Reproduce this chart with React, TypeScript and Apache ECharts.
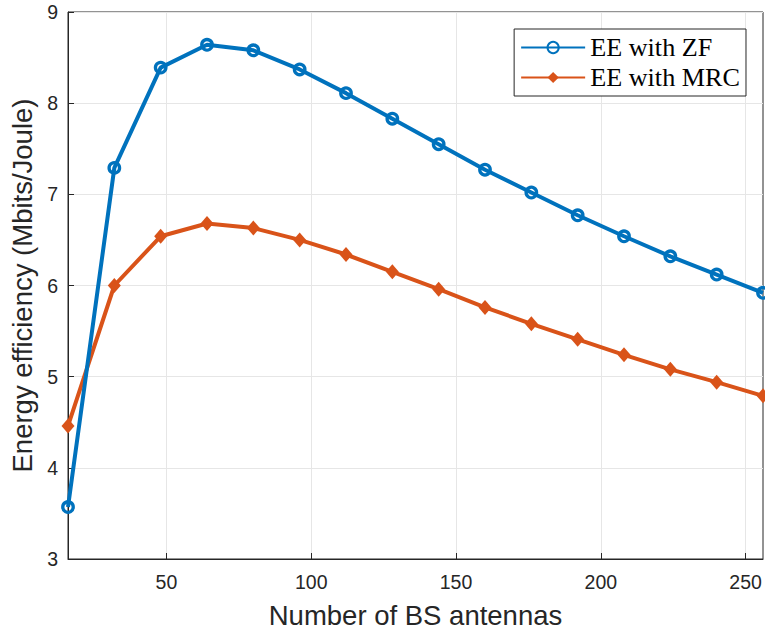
import React, { useEffect, useRef } from "react";
import * as echarts from "echarts";

const antennas = [16, 32, 48, 64, 80, 96, 112, 128, 144, 160, 176, 192, 208, 224, 240, 256];
const eeZF = [3.57, 7.29, 8.39, 8.64, 8.58, 8.37, 8.11, 7.83, 7.55, 7.27, 7.02, 6.77, 6.54, 6.32, 6.12, 5.92];
const eeMRC = [4.46, 6.0, 6.54, 6.68, 6.63, 6.5, 6.34, 6.15, 5.96, 5.76, 5.58, 5.41, 5.24, 5.08, 4.94, 4.79];
const xTicks = [50, 100, 150, 200, 250];

export default function App() {
  const ref = useRef<HTMLDivElement>(null);
  useEffect(() => {
    const chart = echarts.init(ref.current!, undefined, { renderer: "svg" });
    const axisText = { color: "#262626", fontFamily: "Liberation Sans, Arial, sans-serif", fontSize: 19.5 };
    chart.setOption({
      animation: false,
      backgroundColor: "#ffffff",
      grid: { left: 68, right: 2, top: 12, bottom: 74, show: true, borderColor: "#262626", borderWidth: 1 },
      legend: {
        right: 19,
        top: 29,
        orient: "vertical",
        backgroundColor: "#ffffff",
        borderColor: "#262626",
        borderWidth: 1,
        padding: [5, 6, 5, 6],
        itemGap: 3,
        itemWidth: 64,
        itemHeight: 14,
        textStyle: {
          fontFamily: "Liberation Serif, Times New Roman, serif",
          fontSize: 26.2,
          lineHeight: 27,
          color: "#000",
        },
        data: ["EE with ZF", "EE with MRC"],
      },
      xAxis: {
        type: "value",
        min: 16,
        max: 256,
        name: "Number of BS antennas",
        nameLocation: "middle",
        nameGap: 42,
        nameTextStyle: { ...axisText, fontSize: 27.5 },
        axisLine: { show: true, onZero: false, lineStyle: { color: "#262626" } },
        axisTick: { show: true, inside: true, length: 6, customValues: xTicks, lineStyle: { color: "#262626" } },
        axisLabel: { ...axisText, margin: 13, customValues: xTicks },
        splitLine: { show: true, lineStyle: { color: "#e6e6e6", width: 1 } },
      },
      yAxis: {
        type: "value",
        min: 3,
        max: 9,
        interval: 1,
        name: "Energy efficiency (Mbits/Joule)",
        nameLocation: "middle",
        nameGap: 28,
        nameTextStyle: { ...axisText, fontSize: 27.5 },
        axisLine: { show: true, lineStyle: { color: "#262626" } },
        axisTick: { show: true, inside: true, length: 6, lineStyle: { color: "#262626" } },
        axisLabel: { ...axisText, margin: 10 },
        splitLine: { show: true, lineStyle: { color: "#e6e6e6", width: 1 } },
      },
      series: [
        {
          name: "EE with ZF",
          type: "line",
          data: antennas.map((a, i) => [a, eeZF[i]]),
          color: "#0072BD",
          lineStyle: { width: 4, color: "#0072BD" },
          symbol: "circle",
          symbolSize: 10.5,
          itemStyle: { borderWidth: 3.3, color: "rgba(255,255,255,0)", borderColor: "#0072BD" },
          z: 3,
        },
        {
          name: "EE with MRC",
          type: "line",
          data: antennas.map((a, i) => [a, eeMRC[i]]),
          color: "#D95319",
          lineStyle: { width: 4, color: "#D95319" },
          symbol: "diamond",
          symbolSize: [13, 15],
          itemStyle: { color: "#D95319" },
          z: 2,
        },
      ],
    });
    return () => chart.dispose();
  }, []);
  return <div ref={ref} style={{ width: 765, height: 634, position: "absolute", left: 0, top: 0 }} />;
}
